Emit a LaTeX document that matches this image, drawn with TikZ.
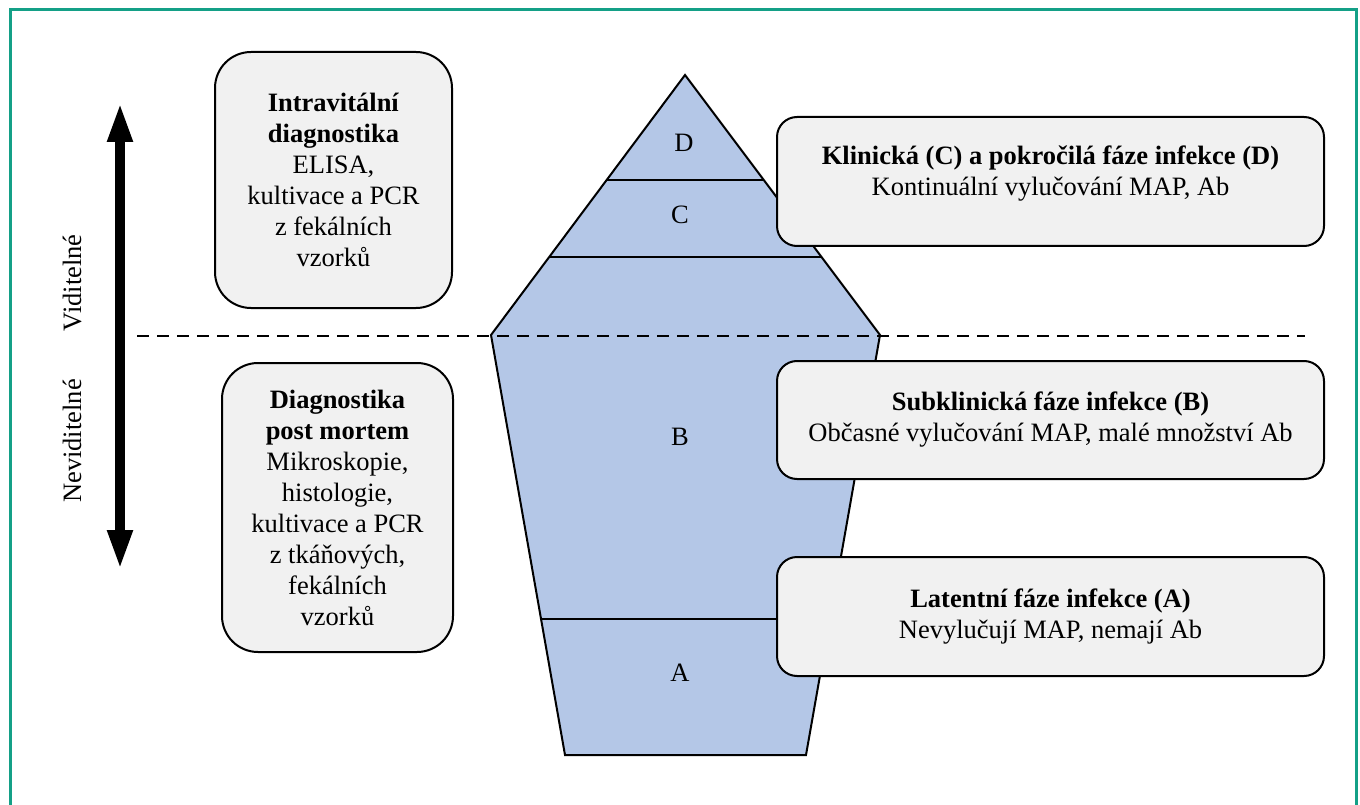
\documentclass[tikz,border=0pt]{standalone}
\usepackage{fontspec}
\setmainfont{Liberation Serif}
\usetikzlibrary{arrows.meta,calc}
\definecolor{frameteal}{RGB}{20,160,135}
\definecolor{icefill}{RGB}{180,199,231}
\definecolor{boxfill}{RGB}{241,241,241}
\newcommand\bodyfont{\fontsize{26.5}{31}\selectfont}
\begin{document}
\begin{tikzpicture}[x=1pt,y=-1pt,
  infobox/.style={draw=black,line width=2pt,fill=boxfill,align=center,
    font=\bodyfont,inner sep=0pt},
  sidebox/.style={infobox,rounded corners=36pt},
  phasebox/.style={infobox,rounded corners=20pt,minimum width=547pt},
  layer/.style={draw=black,line width=1.2pt},
  tag/.style={font=\bodyfont,inner sep=0pt},
  bigarrow/.style={line width=10pt,
    {Triangle[length=40pt,width=23pt]}-{Triangle[length=40pt,width=23pt]}}]

\clip (0,0) rectangle (1360,805);
\useasboundingbox (0,0) rectangle (1360,805);

% outer frame
\draw[frameteal,line width=3pt] (10,10) rectangle (1356,830);

% iceberg: tip above the waterline, body below
\coordinate (apex) at (685,75);
\coordinate (wl) at (491,335);
\coordinate (wr) at (880,335);
\coordinate (bl) at (565,755);
\coordinate (br) at (806,755);
\filldraw[fill=icefill,draw=black,line width=2pt,line join=miter]
  (apex) -- (wr) -- (br) -- (bl) -- (wl) -- cycle;

% layer boundaries
\coordinate (dcL) at ($(apex)!0.4038!(wl)$);
\coordinate (dcR) at ($(apex)!0.4038!(wr)$);
\coordinate (cbL) at ($(apex)!0.7!(wl)$);
\coordinate (cbR) at ($(apex)!0.7!(wr)$);
\coordinate (baL) at ($(wl)!0.676!(bl)$);
\coordinate (baR) at ($(wr)!0.676!(br)$);
\draw[layer] (dcL) -- (dcR);
\draw[layer] (cbL) -- (cbR);
\draw[layer] (baL) -- (baR);

\node[tag] (lblD) at (684,143) {D};
\node[tag] (lblC) at (680,215) {C};
\node[tag] (lblB) at (680,437) {B};
\node[tag] (lblA) at (680,673) {A};

% waterline
\coordinate (dashL) at (137,336);
\coordinate (dashR) at (1305,336);
\draw[line width=2.4pt,dash pattern=on 12pt off 8pt] (dashL) -- (dashR);

% visibility axis
\coordinate (arrTop) at (120,102);
\coordinate (arrBot) at (120,570);
\draw[bigarrow] (arrTop) -- (arrBot);
\node[tag,rotate=90] (vis) at (72,283) {Viditelné};
\node[tag,rotate=90] (invis) at (72,441) {Neviditelné};

% diagnostic methods
\node[sidebox,minimum width=237pt,minimum height=256pt] (intra) at (333.5,180)
  {\textbf{Intravitální}\\ \textbf{diagnostika}\\ ELISA,\\ kultivace a PCR\\ z fekálních\\ vzorků};
\node[sidebox,minimum width=231pt,minimum height=289pt] (post) at (337.5,507.5)
  {\textbf{Diagnostika}\\ \textbf{post mortem}\\ Mikroskopie,\\ histologie,\\ kultivace a PCR\\ z tkáňových,\\ fekálních\\ vzorků};

% infection phases
\node[phasebox,minimum height=129pt] (clin) at (1050.5,181.5) {};
\node[tag,align=center] (clintext) at ([yshift=8pt]clin.center)
  {\textbf{Klinická (C) a pokročilá fáze infekce (D)}\\ Kontinuální vylučování MAP, Ab};
\node[phasebox,minimum height=118pt] (subclin) at (1050.5,420)
  {\textbf{Subklinická fáze infekce (B)}\\ Občasné vylučování MAP, malé množství Ab};
\node[phasebox,minimum height=119pt] (latent) at (1050.5,616.5)
  {\textbf{Latentní fáze infekce (A)}\\ Nevylučují MAP, nemají Ab};

\end{tikzpicture}
\end{document}
